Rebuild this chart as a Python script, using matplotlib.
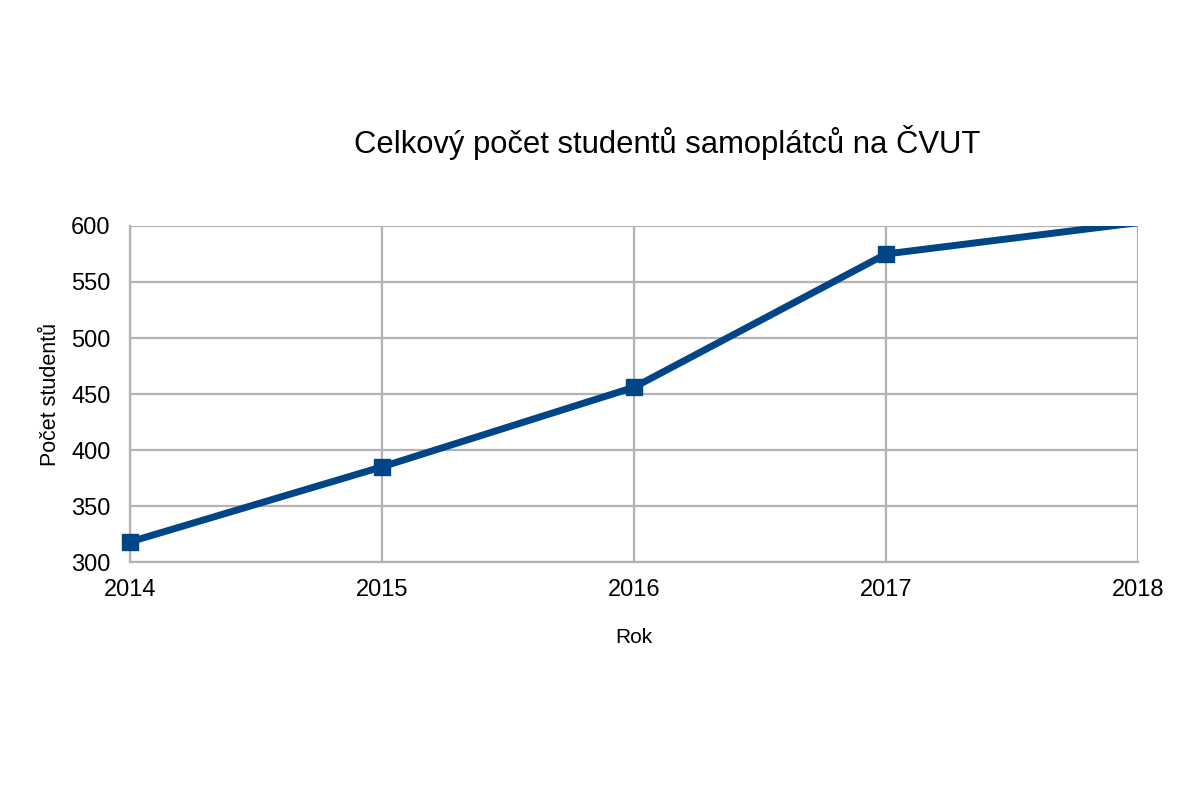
import matplotlib.pyplot as plt

# data
years = [2014, 2015, 2016, 2017, 2018]
students = [318, 385, 456, 575, 603]

plt.rcParams['font.family'] = ['Liberation Sans', 'DejaVu Sans']

fig = plt.figure(figsize=(11.96, 7.98), dpi=100)
ax = fig.add_axes([0.1087, 0.2957, 0.8428, 0.4211])

# line clipped at the plot area, markers drawn only where inside
ax.plot(years, students, color='#004586', linewidth=5, zorder=3)
inside = [(x, y) for x, y in zip(years, students) if y <= 600]
ax.plot([p[0] for p in inside], [p[1] for p in inside], linestyle='none',
        marker='s', markersize=12, color='#004586', clip_on=False, zorder=4)

ax.set_xlim(2014, 2018)
ax.set_ylim(300, 600)
ax.set_xticks(years)
ax.set_yticks(range(300, 601, 50))
ax.grid(True, color='#b3b3b3', linewidth=1.6)
for s in ['top', 'right']:
    ax.spines[s].set_visible(False)
for s in ['left', 'bottom']:
    ax.spines[s].set_color('#b3b3b3')
    ax.spines[s].set_linewidth(1.6)
ax.tick_params(axis='both', length=0, labelsize=17, colors='#000000')
ax.tick_params(axis='x', pad=12)
ax.tick_params(axis='y', pad=14)

ax.set_xlabel('Rok', fontsize=15, labelpad=20)
ax.set_ylabel('Počet studentů', fontsize=15.5, labelpad=7)

fig.text(0.558, 0.821, 'Celkový počet studentů samoplátců na ČVUT',
         ha='center', va='center', fontsize=22.3)

fig.savefig('out.png', dpi=100)
